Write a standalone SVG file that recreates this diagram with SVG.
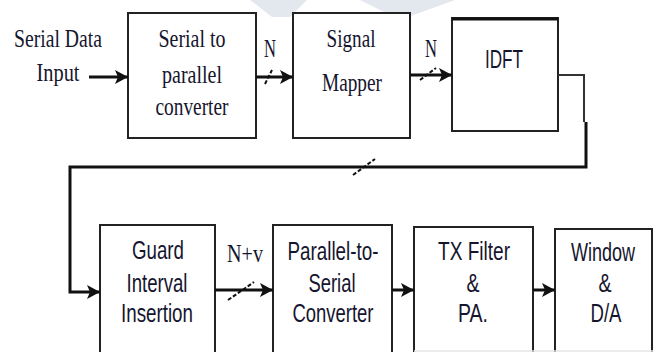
<svg xmlns="http://www.w3.org/2000/svg" width="653" height="352" viewBox="0 0 653 352">
<defs>
<style>
.box{fill:#fff;stroke:#222;stroke-width:2}
.ser{font-family:"Liberation Serif","Times New Roman",serif;font-size:25px;fill:#15152e;text-anchor:middle}
.sans{font-family:"Liberation Sans",Arial,sans-serif;font-size:26px;fill:#15152e;text-anchor:middle}
.ln{fill:none;stroke:#111;stroke-width:3}
.thin{fill:none;stroke:#333;stroke-width:2}
.sl{fill:none;stroke:#111;stroke-width:2;stroke-dasharray:4 2}
.wm{fill:#e3e8ee}
</style>
<marker id="ah" markerUnits="userSpaceOnUse" markerWidth="14" markerHeight="16" viewBox="0 0 14 16" refX="13" refY="8" orient="auto">
<path d="M0,1 L13,8 L0,15 L3,8 z" fill="#111"/>
</marker>
</defs>
<rect width="653" height="352" fill="#fff"/>
<g id="watermark">
<polygon class="wm" points="250,0 307,0 290,17 272,17"/>
<polygon class="wm" points="360,0 455,0 405,18 392,16"/>
</g>
<g id="input-label">
<text class="ser" x="58" y="47" textLength="88" lengthAdjust="spacingAndGlyphs">Serial Data</text>
<text class="ser" x="58" y="81" textLength="43" lengthAdjust="spacingAndGlyphs">Input</text>
</g>
<g id="s2p">
<rect class="box" x="128" y="13" width="128" height="125"/>
<text class="ser" x="192" y="47" textLength="67" lengthAdjust="spacingAndGlyphs">Serial to</text>
<text class="ser" x="192" y="83" textLength="60" lengthAdjust="spacingAndGlyphs">parallel</text>
<text class="ser" x="192" y="115" textLength="73" lengthAdjust="spacingAndGlyphs">converter</text>
</g>
<g id="mapper">
<rect class="box" x="293" y="13" width="117" height="125"/>
<text class="ser" x="351" y="47" textLength="49" lengthAdjust="spacingAndGlyphs">Signal</text>
<text class="ser" x="352" y="91" textLength="60" lengthAdjust="spacingAndGlyphs">Mapper</text>
</g>
<g id="idft">
<rect class="box" x="452" y="18" width="106" height="113"/>
<line x1="452" y1="19" x2="558" y2="19" stroke="#111" stroke-width="3"/>
<text class="sans" x="504" y="68" font-size="29" textLength="38" lengthAdjust="spacingAndGlyphs">IDFT</text>
</g>
<g id="guard">
<rect class="box" x="100" y="225" width="115" height="140"/>
<text class="sans" x="158" y="259" textLength="52" lengthAdjust="spacingAndGlyphs">Guard</text>
<text class="sans" x="157" y="292" textLength="61" lengthAdjust="spacingAndGlyphs">Interval</text>
<text class="sans" x="157" y="322" textLength="72" lengthAdjust="spacingAndGlyphs">Insertion</text>
</g>
<g id="p2s">
<rect class="box" x="273" y="225" width="119" height="140"/>
<text class="sans" x="333" y="260" textLength="91" lengthAdjust="spacingAndGlyphs">Parallel-to-</text>
<text class="sans" x="332" y="292" textLength="47" lengthAdjust="spacingAndGlyphs">Serial</text>
<text class="sans" x="333" y="322" textLength="81" lengthAdjust="spacingAndGlyphs">Converter</text>
</g>
<g id="txfilter">
<rect class="box" x="414" y="227" width="119" height="140"/>
<text class="sans" x="474" y="260" textLength="72" lengthAdjust="spacingAndGlyphs">TX Filter</text>
<text class="sans" x="473" y="292" textLength="13" lengthAdjust="spacingAndGlyphs">&amp;</text>
<text class="sans" x="473" y="322" textLength="30" lengthAdjust="spacingAndGlyphs">PA.</text>
</g>
<g id="window">
<rect class="box" x="555" y="229" width="97" height="140"/>
<text class="sans" x="603" y="261" font-size="24" textLength="64" lengthAdjust="spacingAndGlyphs">Window</text>
<text class="sans" x="605" y="292" textLength="13" lengthAdjust="spacingAndGlyphs">&amp;</text>
<text class="sans" x="606" y="322" textLength="31" lengthAdjust="spacingAndGlyphs">D/A</text>
</g>
<line x1="414" y1="351" x2="653" y2="351" stroke="#e6e6e6" stroke-width="1.5"/>
<g id="connectors">
<line class="ln" x1="89" y1="77" x2="128" y2="77" marker-end="url(#ah)"/>
<line class="ln" x1="256" y1="77" x2="293" y2="77" marker-end="url(#ah)"/>
<line class="sl" x1="265" y1="84" x2="272" y2="70"/>
<text class="ser" x="270" y="57" textLength="12" lengthAdjust="spacingAndGlyphs">N</text>
<line class="ln" x1="410" y1="75" x2="452" y2="75" marker-end="url(#ah)"/>
<line class="sl" x1="420" y1="80" x2="436" y2="68"/>
<text class="ser" x="431" y="57" textLength="12" lengthAdjust="spacingAndGlyphs">N</text>
<polyline class="thin" points="558,75 584,75 584,122"/>
<polyline class="ln" points="586,122 586,167 70,167 70,292 100,292" stroke-linejoin="miter" marker-end="url(#ah)"/>
<line class="sl" x1="353" y1="175" x2="375" y2="159"/>
<line class="ln" x1="215" y1="290" x2="273" y2="290" marker-end="url(#ah)"/>
<line class="sl" x1="228" y1="300" x2="254" y2="282"/>
<text class="ser" x="245" y="262" textLength="36" lengthAdjust="spacingAndGlyphs">N+v</text>
<line class="ln" x1="392" y1="290" x2="414" y2="290" marker-end="url(#ah)"/>
<line class="ln" x1="533" y1="290" x2="555" y2="290" marker-end="url(#ah)"/>
</g>
</svg>
